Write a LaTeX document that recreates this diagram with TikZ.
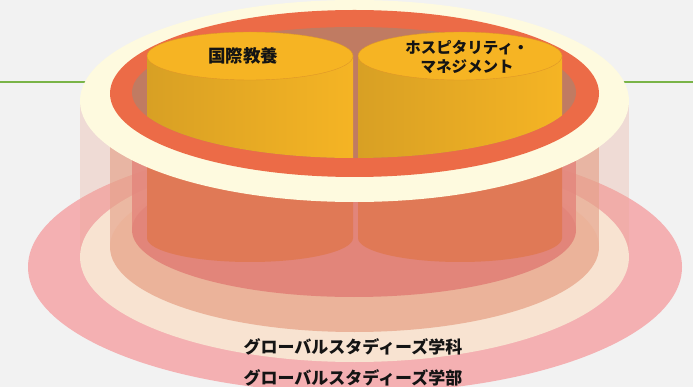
\documentclass[tikz,border=0pt]{standalone}
\usepackage{fontspec}
\newfontfamily\jp{Noto Sans CJK JP}
\definecolor{bgc}{RGB}{242,242,242}
\definecolor{greenc}{RGB}{122,180,72}
\definecolor{pinkc}{RGB}{244,176,178}
\definecolor{wallA}{RGB}{235,168,149}
\definecolor{beigec}{RGB}{248,227,209}
\definecolor{wallB}{RGB}{229,162,137}
\definecolor{salmonc}{RGB}{235,179,154}
\definecolor{wallC}{RGB}{228,135,125}
\definecolor{innerc}{RGB}{226,133,122}
\definecolor{orangec}{RGB}{224,121,86}
\definecolor{creamc}{RGB}{254,250,223}
\definecolor{redc}{RGB}{236,107,71}
\definecolor{brownc}{RGB}{192,123,98}
\definecolor{ylwdark}{RGB}{216,160,36}
\definecolor{ylwlight}{RGB}{245,180,36}
\definecolor{ylwtop}{RGB}{246,180,35}
\definecolor{ylwedge}{RGB}{222,150,40}
\definecolor{txtc}{RGB}{20,20,20}
\tikzset{
  lbl/.style={text=txtc, inner sep=0pt, font=\jp\bfseries\fontsize{#1}{19}\selectfont},
  lbl/.default=17
}
\begin{document}
\begin{tikzpicture}[x=1pt,y=-1pt]
\useasboundingbox (0,0) rectangle (693,387);
\fill[bgc] (0,0) rectangle (693,387);
\draw[greenc, line width=1.5pt] (0,82) -- (693,82);
% faculty disc
\fill[pinkc] (355,267) ellipse [x radius=327, y radius=126];
% department cylinder
\fill[wallA, opacity=0.3] (80,101) rectangle (629,257);
\fill[beigec] (354.5,257) ellipse [x radius=274.5, y radius=105];
% middle cylinder
\fill[wallB, opacity=0.65] (110,93.5) rectangle (599,247);
\fill[salmonc] (354.5,247) ellipse [x radius=244.5, y radius=85];
% inner cylinder
\fill[wallC, opacity=0.85] (132,92.5) rectangle (576,230);
\fill[innerc] (354,230) ellipse [x radius=222, y radius=67];
% lower parts of the two course cylinders
\fill[orangec] (147,100) -- (147,238) arc[start angle=180, end angle=0, x radius=103, y radius=24] -- (353,100) -- cycle;
\fill[orangec] (358,100) -- (358,238) arc[start angle=180, end angle=0, x radius=102, y radius=24] -- (562,100) -- cycle;
% top rings
\fill[creamc] (354.5,101) ellipse [x radius=274.5, y radius=101];
\fill[redc] (354.5,93.5) ellipse [x radius=244.5, y radius=83.5];
\fill[brownc] (354,92.5) ellipse [x radius=222, y radius=65.5];
% course cylinders
\begin{scope}
\clip (132,0) -- (132,92.5) arc[start angle=180, end angle=0, x radius=222, y radius=65.5] -- (576,0) -- cycle;
\shade[left color=ylwdark, right color=ylwlight] (147,56) rectangle (353,200);
\shade[left color=ylwdark, right color=ylwlight] (358,56) rectangle (562,200);
\end{scope}
\fill[ylwtop, draw=ylwedge, line width=0.4pt] (250,56) ellipse [x radius=103, y radius=24];
\fill[ylwtop, draw=ylwedge, line width=0.4pt] (460,56) ellipse [x radius=102, y radius=24];
% labels
\node[lbl=17.5] (kokusai) at (243,56) {国際教養};
\node[lbl=15.5, align=center] (hosp) at (467,57.5) {ホスピタリティ・\\マネジメント};
\node[lbl=17] (gakka) at (353,347) {グローバルスタディーズ学科};
\node[lbl=17] (gakubu) at (353,378) {グローバルスタディーズ学部};
\end{tikzpicture}
\end{document}
